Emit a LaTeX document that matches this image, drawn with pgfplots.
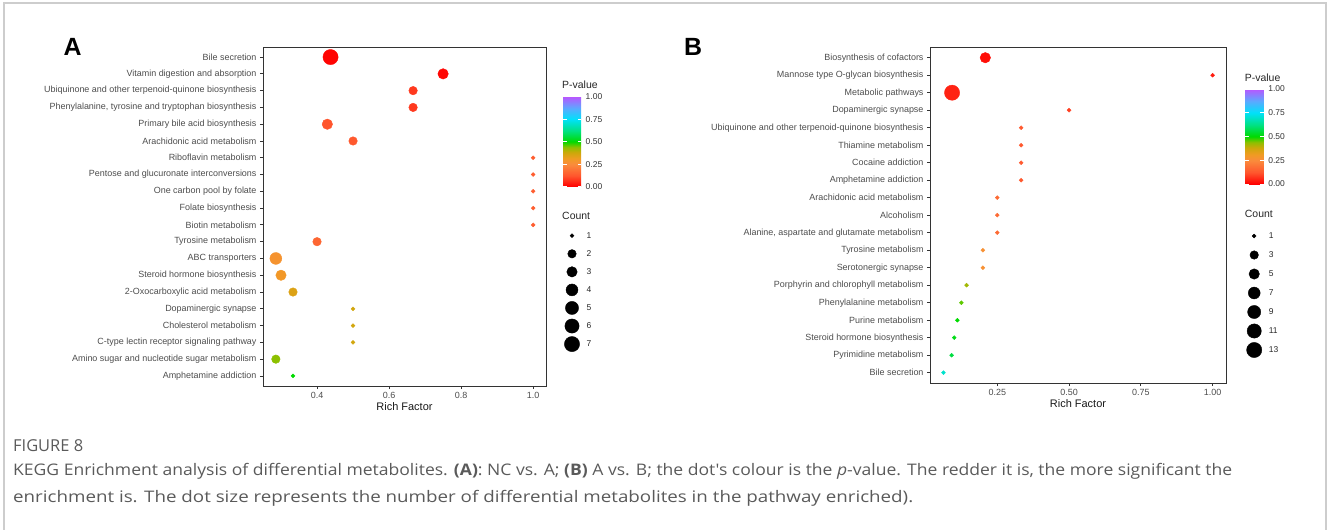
\documentclass[border=0pt]{standalone}
\usepackage{fontspec}
\setmainfont{Liberation Sans}
\newfontfamily\capfont{Open Sans}
\usepackage{graphicx}
\usepackage{pgfplots}
\pgfplotsset{compat=1.18}
\usepackage{pgfplotstable}

\definecolor{ticktxt}{RGB}{77,77,77}
\definecolor{frame}{RGB}{51,51,51}
\definecolor{captxt}{RGB}{90,90,90}
\definecolor{border}{RGB}{205,205,205}

\pgfplotsset{
  /pgf/number format/assume math mode=true,
  colormap={pval}{rgb255(0pt)=(255,0,0); rgb255(12pt)=(255,85,45); rgb255(25pt)=(250,140,60);
    rgb255(31pt)=(240,155,35); rgb255(38pt)=(205,168,10); rgb255(44pt)=(140,192,0);
    rgb255(50pt)=(0,218,0); rgb255(62pt)=(0,225,130); rgb255(75pt)=(0,225,250);
    rgb255(87pt)=(90,170,255); rgb255(100pt)=(185,85,255)},
  kegg/.style={
    scale only axis, y dir=reverse,
    axis line style={draw=frame, line width=0.8bp},
    tick align=outside, xtick pos=left, ytick pos=left,
    major tick length=3bp, tick style={draw=frame, line width=0.8bp},
    tick label style={font=\fontsize{9}{10}\selectfont, text=ticktxt},
    xlabel={Rich Factor},
    xlabel style={font=\fontsize{11}{12}\selectfont, text=black!90, at={(axis description cs:0.5,0)},
      anchor=north, inner sep=0pt, yshift=-16bp},
    point meta min=0, point meta max=1, colormap name=pval,
    colorbar,
  },
  cbar/.style={scale only axis, at={(parent axis.north east)}, anchor=north west,
    ytick={0,0.25,0.5,0.75,1}, axis line style={draw=none},
    tick align=inside, ytick pos=both, yticklabel pos=right, major tick length=3.6bp,
    ytick style={draw=white, line width=0.6bp},
    yticklabel style={font=\fontsize{8.5}{10}\selectfont, text=black!80, xshift=1bp,
      /pgf/number format/.cd, fixed, fixed zerofill, precision=2}},
  dots/.style={scatter, only marks, mark=*, point meta=explicit,
    scatter/use mapped color={draw=mapped color, fill=mapped color},
    scatter/@pre marker code/.append style={/tikz/mark size=\rad}},
  keydots/.style={scatter, only marks, mark=*, point meta=explicit,
    scatter/use mapped color={draw=black, fill=black},
    scatter/@pre marker code/.append style={/tikz/mark size=\rad}},
  keylabels/.style={draw=none, mark=none, point meta=explicit symbolic, nodes near coords,
    nodes near coords style={anchor=west, xshift=14.5bp, inner sep=0pt,
      font=\fontsize{8.5}{10}\selectfont, text=black!85}},
  keyaxis/.style={scale only axis, anchor=north west, xmin=0, xmax=1, ymin=0.5, ymax=7.5,
    y dir=reverse, hide axis, clip=false},
}

% NC vs. A
\pgfplotstableread[col sep=semicolon]{
row;name;rf;n;p
1;Bile secretion;0.4375;7;0.005
2;Vitamin digestion and absorption;0.75;3;0.01
3;Ubiquinone and other terpenoid-quinone biosynthesis;0.6667;2;0.08
4;Phenylalanine, tyrosine and tryptophan biosynthesis;0.6667;2;0.08
5;Primary bile acid biosynthesis;0.4286;3;0.12
6;Arachidonic acid metabolism;0.5;2;0.13
7;Riboflavin metabolism;1;1;0.14
8;Pentose and glucuronate interconversions;1;1;0.14
9;One carbon pool by folate;1;1;0.14
10;Folate biosynthesis;1;1;0.14
11;Biotin metabolism;1;1;0.14
12;Tyrosine metabolism;0.4;2;0.16
13;ABC transporters;0.2857;4;0.28
14;Steroid hormone biosynthesis;0.3;3;0.30
15;2-Oxocarboxylic acid metabolism;0.3333;2;0.35
16;Dopaminergic synapse;0.5;1;0.37
17;Cholesterol metabolism;0.5;1;0.37
18;C-type lectin receptor signaling pathway;0.5;1;0.37
19;Amino sugar and nucleotide sugar metabolism;0.2857;2;0.44
20;Amphetamine addiction;0.3333;1;0.50
}\tabA

% A vs. B
\pgfplotstableread[col sep=semicolon]{
row;name;rf;n;p
1;Biosynthesis of cofactors;0.2083;5;0.02
2;Mannose type O-glycan biosynthesis;1;1;0.04
3;Metabolic pathways;0.0925;13;0.05
4;Dopaminergic synapse;0.5;1;0.09
5;Ubiquinone and other terpenoid-quinone biosynthesis;0.3333;1;0.13
6;Thiamine metabolism;0.3333;1;0.13
7;Cocaine addiction;0.3333;1;0.13
8;Amphetamine addiction;0.3333;1;0.13
9;Arachidonic acid metabolism;0.25;1;0.17
10;Alcoholism;0.25;1;0.17
11;Alanine, aspartate and glutamate metabolism;0.25;1;0.17
12;Tyrosine metabolism;0.2;1;0.27
13;Serotonergic synapse;0.2;1;0.27
14;Porphyrin and chlorophyll metabolism;0.1429;1;0.42
15;Phenylalanine metabolism;0.125;1;0.46
16;Purine metabolism;0.1111;1;0.50
17;Steroid hormone biosynthesis;0.1;1;0.52
18;Pyrimidine metabolism;0.0909;1;0.56
19;Bile secretion;0.0625;1;0.70
}\tabB

% Count keys
\pgfplotstableread{
x k n
0.5 1 1
0.5 2 2
0.5 3 3
0.5 4 4
0.5 5 5
0.5 6 6
0.5 7 7
}\keyA
\pgfplotstableread{
x k n
0.5 1 1
0.5 2 3
0.5 3 5
0.5 4 7
0.5 5 9
0.5 6 11
0.5 7 13
}\keyB

\begin{document}
\begin{tikzpicture}
\useasboundingbox (0,0) rectangle (1328bp,-530bp);
\draw[border, line width=1.3bp] (4bp,-530bp) -- (4bp,-3bp) -- (1326bp,-3bp) -- (1326bp,-530bp);

% panel A
\begin{axis}[kegg, at={(263bp,-47bp)}, anchor=north west, width=283bp, height=339bp,
  xmin=0.25, xmax=1.0357, ymin=0.4, ymax=20.6,
  xtick={0.4,0.6,0.8,1.0},
  xticklabel style={/pgf/number format/.cd, fixed, fixed zerofill, precision=1},
  ytick={1,...,20}, yticklabels from table={\tabA}{name},
  colorbar/width=18bp,
  colorbar style={cbar, height=90bp, xshift=8.7bp, yshift=-49.7bp}]
\addplot[dots, visualization depends on={1.13*(1+5*sqrt((\thisrow{n}-1)/6))+0.85 \as \rad}]
  table[x=rf, y=row, meta=p] {\tabA};
\end{axis}
\begin{axis}[keyaxis, at={(562bp,-226.7bp)}, width=20bp, height=126.4bp]
\addplot[keydots, visualization depends on={1.13*(1+5*sqrt((\thisrow{n}-1)/6))+0.85 \as \rad}]
  table[x=x, y=k, meta=n] {\keyA};
\addplot[keylabels] table[x=x, y=k, meta=n] {\keyA};
\end{axis}
\node[anchor=west, inner sep=0pt, font=\fontsize{10.5}{12}\selectfont, text=black!85] at (562bp,-85bp) {P-value};
\node[anchor=west, inner sep=0pt, font=\fontsize{10.5}{12}\selectfont, text=black!85] at (562bp,-215.7bp) {Count};
\node[anchor=base, inner sep=0pt, font=\fontsize{25}{30}\selectfont\bfseries] at (72.5bp,-55bp) {A};

% panel B
\begin{axis}[kegg, at={(930bp,-47.2bp)}, anchor=north west, width=296bp, height=336bp,
  xmin=0.015625, xmax=1.046875, ymin=0.4, ymax=19.6,
  xtick={0.25,0.5,0.75,1.0},
  xticklabel style={/pgf/number format/.cd, fixed, fixed zerofill, precision=2},
  ytick={1,...,19}, yticklabels from table={\tabB}{name},
  colorbar/width=18.6bp,
  colorbar style={cbar, height=95bp, xshift=10.7bp, yshift=-41.8bp}]
\addplot[dots, visualization depends on={1.13*(1+5*sqrt((\thisrow{n}-1)/12))+0.85 \as \rad}]
  table[x=rf, y=row, meta=p] {\tabB};
\end{axis}
\begin{axis}[keyaxis, at={(1244.7bp,-226.5bp)}, width=19bp, height=133bp]
\addplot[keydots, visualization depends on={1.13*(1+5*sqrt((\thisrow{n}-1)/12))+0.85 \as \rad}]
  table[x=x, y=k, meta=n] {\keyB};
\addplot[keylabels] table[x=x, y=k, meta=n] {\keyB};
\end{axis}
\node[anchor=west, inner sep=0pt, font=\fontsize{10.5}{12}\selectfont, text=black!85] at (1244.7bp,-78bp) {P-value};
\node[anchor=west, inner sep=0pt, font=\fontsize{10.5}{12}\selectfont, text=black!85] at (1244.7bp,-214bp) {Count};
\node[anchor=base, inner sep=0pt, font=\fontsize{25}{30}\selectfont\bfseries] at (693bp,-55bp) {B};

% caption
\node[anchor=base west, inner sep=0pt, text=captxt, font=\capfont\fontsize{16.5}{20}\selectfont] at (13bp,-451bp)
  {\resizebox{70bp}{\height}{FIGURE 8}};
\node[anchor=base west, inner sep=0pt, text=captxt, font=\capfont\fontsize{16}{19}\selectfont] at (13bp,-475bp)
  {\resizebox{1219bp}{\height}{KEGG Enrichment analysis of differential metabolites. {\bfseries (A)}: NC vs. A; {\bfseries (B)} A vs. B; the dot's colour is the {\itshape p}-value. The redder it is, the more significant the}};
\node[anchor=base west, inner sep=0pt, text=captxt, font=\capfont\fontsize{16}{19}\selectfont] at (13bp,-502bp)
  {\resizebox{900bp}{\height}{enrichment is. The dot size represents the number of differential metabolites in the pathway enriched).}};
\end{tikzpicture}
\end{document}
